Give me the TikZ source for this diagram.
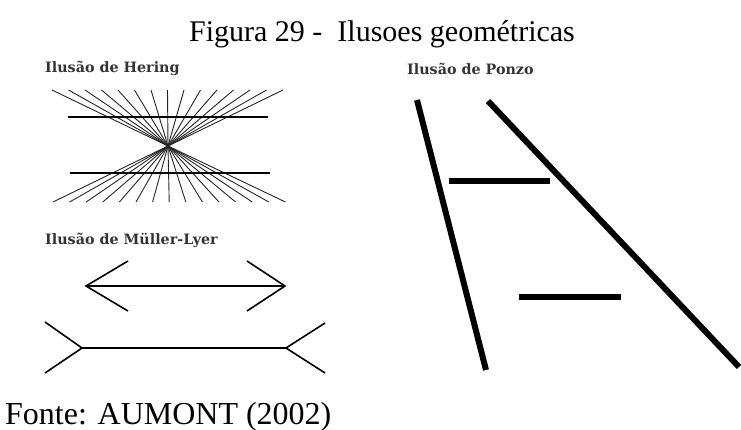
\documentclass[tikz,border=0pt]{standalone}
\usepackage{fontspec}
\setmainfont{Liberation Serif}
\newfontfamily\scanfont{DejaVu Serif}
\usetikzlibrary{positioning}

\begin{document}
\begin{tikzpicture}[
  x=1pt, y=-1pt,
  caption/.style={font=\fontsize{30}{34}\selectfont, anchor=base, inner sep=0pt},
  illabel/.style={font=\scanfont\bfseries\fontsize{14.3}{16}\selectfont,
    text=black!80, anchor=west, inner sep=0pt},
  ray/.style={line width=0.9pt, draw=black!85},
  bar/.style={line width=1.8pt},
  fin/.style={line width=1.6pt},
  thickbar/.style={line width=6pt}
]
\useasboundingbox (0,0) rectangle (741,430);

% Title and source
\node[caption] (title) at (382,42) {Figura 29 -~ Ilusoes geométricas};
\node[caption, anchor=base west, font=\fontsize{32}{36}\selectfont] (fonte) at (5,424) {Fonte: AUMONT (2002)};

% Hering
\node[illabel] (hering) at (45,68) {Ilusão de Hering};
\coordinate (hc) at (168,146);
\foreach \i in {0,...,14}{
  \draw[ray] (52+16.5*\i,90) -- (hc);
  \draw[ray] (53+16.6*\i,202) -- (hc);
}
\draw[bar] (68,117) -- (268,117);
\draw[bar] (70,173) -- (270,173);

% Muller-Lyer
\node[illabel] (muller) at (45,240) {Ilusão de Müller-Lyer};
\coordinate (al) at (86,286);
\coordinate (ar) at (285,286);
\draw[fin] (al) -- (ar);
\draw[fin] (128,261) -- (al) -- (128,311);
\draw[fin] (247,261) -- (ar) -- (247,311);
\coordinate (bl) at (82,348);
\coordinate (br) at (286,348);
\draw[fin] (bl) -- (br);
\draw[fin] (45,322) -- (bl) -- (45,373);
\draw[fin] (325,323) -- (br) -- (325,373);

% Ponzo
\node[illabel] (ponzo) at (407,69) {Ilusão de Ponzo};
\draw[thickbar] (417,100) -- (486,370);
\draw[thickbar] (488,101) -- (739,367);
\draw[thickbar] (449,181) -- (550,181);
\draw[thickbar] (519,297) -- (621,297);
\end{tikzpicture}
\end{document}
